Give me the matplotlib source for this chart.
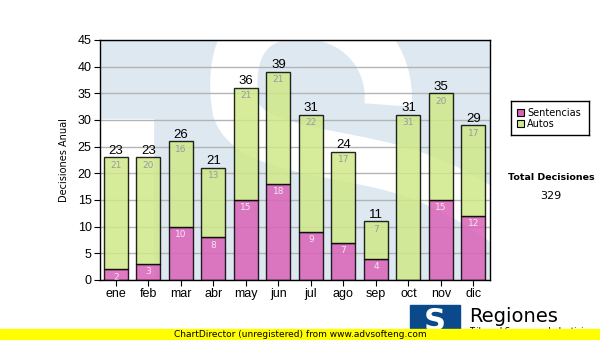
import numpy as np
import matplotlib.pyplot as plt
from matplotlib.path import Path
from matplotlib.patches import PathPatch, Rectangle

meses = ['ene', 'feb', 'mar', 'abr', 'may', 'jun', 'jul', 'ago', 'sep', 'oct', 'nov', 'dic']
sentencias = [2, 3, 10, 8, 15, 18, 9, 7, 4, 0, 15, 12]
autos = [21, 20, 16, 13, 21, 21, 22, 17, 7, 31, 20, 17]
y_ticks = list(range(0, 50, 5))

totales = [s + a for s, a in zip(sentencias, autos)]
total_decisiones = sum(totales)

W, H = 600, 340
fig = plt.figure(figsize=(W / 100, H / 100), dpi=100)
fig.patch.set_facecolor('white')

# plot area in pixel terms: x 100..490, y 40..280
ax = fig.add_axes([100 / W, 1 - 280 / H, 390 / W, 240 / H])
ax.set_facecolor('white')

# faint logo watermark behind the bars (axes coordinates)
def px(x, y):
    return ((x - 100) / 390, (280 - y) / 240)

wm_blue = '#dee8f1'
ax.add_patch(Rectangle((0, 0), 1, 1, transform=ax.transAxes, color=wm_blue, zorder=0))
ax.add_patch(Rectangle(px(100, 280), 53 / 390, 161 / 240, transform=ax.transAxes,
                       color='white', zorder=0.1))
verts = [px(388, 105),
         px(392, 60), px(360, 15), px(300, 15),
         px(240, 15), px(228, 60), px(236, 110),
         px(250, 150), px(330, 150), px(400, 170),
         px(450, 185), px(490, 210), px(540, 250)]
codes = [Path.MOVETO] + [Path.CURVE4] * 12
s_path = PathPatch(Path(verts, codes), transform=ax.transAxes, fill=False,
                   edgecolor='white', lw=34, capstyle='butt', zorder=0.2)
ax.add_patch(s_path)
s_path.set_clip_path(ax.patch)

x = np.arange(len(meses))
w = 0.74
pink = '#da62b8'
green = '#cfe98a'
ax.bar(x, sentencias, w, color=pink, alpha=0.85, edgecolor='black', linewidth=1.0, zorder=3)
ax.bar(x, autos, w, bottom=sentencias, color=green, alpha=0.85, edgecolor='black',
       linewidth=1.0, zorder=3)

for i in range(len(meses)):
    if sentencias[i] > 0:
        ax.text(x[i], sentencias[i] - 0.6, str(sentencias[i]), ha='center', va='top',
                fontsize=6.5, color='#f6e6f2', zorder=4)
    ax.text(x[i], totales[i] - 0.6, str(autos[i]), ha='center', va='top',
            fontsize=6.5, color='#9a9a9a', zorder=4)
    ax.text(x[i], totales[i] + 0.1, str(totales[i]), ha='center', va='bottom',
            fontsize=9.5, color='black', family='Liberation Sans', zorder=4)

ax.set_xlim(-0.49, 11.51)
ax.set_ylim(0, 45)
ax.set_yticks(y_ticks)
ax.set_xticks(x)
ax.set_xticklabels(meses)
ax.tick_params(axis='both', labelsize=9, length=4, width=0.8, color='black', pad=2)
for lbl in ax.get_xticklabels() + ax.get_yticklabels():
    lbl.set_family('Liberation Sans')
ax.yaxis.grid(True, color='#b4b4b4', linewidth=1.0, zorder=1)
ax.set_axisbelow(False)
for line in ax.get_ygridlines():
    line.set_zorder(1)
for sp in ax.spines.values():
    sp.set_linewidth(1.0)
    sp.set_zorder(5)
ax.set_ylabel('Decisiones Anual', fontsize=7, labelpad=6)

# legend box
lg = fig.add_axes([511 / W, 1 - 135 / H, 78 / W, 34 / H])
lg.set_xticks([]); lg.set_yticks([])
lg.set_xlim(0, 78); lg.set_ylim(34, 0)
for sp in lg.spines.values():
    sp.set_linewidth(1.0)
for yy, col, name in [(12, pink, 'Sentencias'), (23, green, 'Autos')]:
    lg.add_patch(Rectangle((6, yy - 3.5), 7, 7, facecolor=col, edgecolor='black', lw=0.8))
    lg.text(16, yy, name, fontsize=7, va='center', ha='left')

fig.text(551 / W, 1 - 178 / H, 'Total Decisiones', fontsize=6.8, fontweight='bold',
         ha='center', va='center')
fig.text(551 / W, 1 - 196 / H, str(total_decisiones), fontsize=8, ha='center', va='center')

# logo and footer
fig.patches.append(Rectangle((410 / W, 0), 50 / W, 35 / H, transform=fig.transFigure,
                             color='#0b4a8a', zorder=1))
fig.text(435 / W, 1 - 322 / H, 'S', fontsize=22, fontweight='bold', color='white',
         ha='center', va='center', zorder=2)
fig.text(469 / W, 1 - 316 / H, 'Regiones', fontsize=14, ha='left', va='center', zorder=2)
fig.text(469 / W, 1 - 331 / H, 'Tribunal Supremo de Justicia', fontsize=6, ha='left',
         va='center', zorder=2)
fig.patches.append(Rectangle((0, 0), 1, 11 / H, transform=fig.transFigure,
                             color='#ffff00', zorder=3))
fig.text(300 / W, 5.5 / H, 'ChartDirector (unregistered) from www.advsofteng.com',
         fontsize=6.5, ha='center', va='center', zorder=4)

fig.savefig('out.png', dpi=100)
